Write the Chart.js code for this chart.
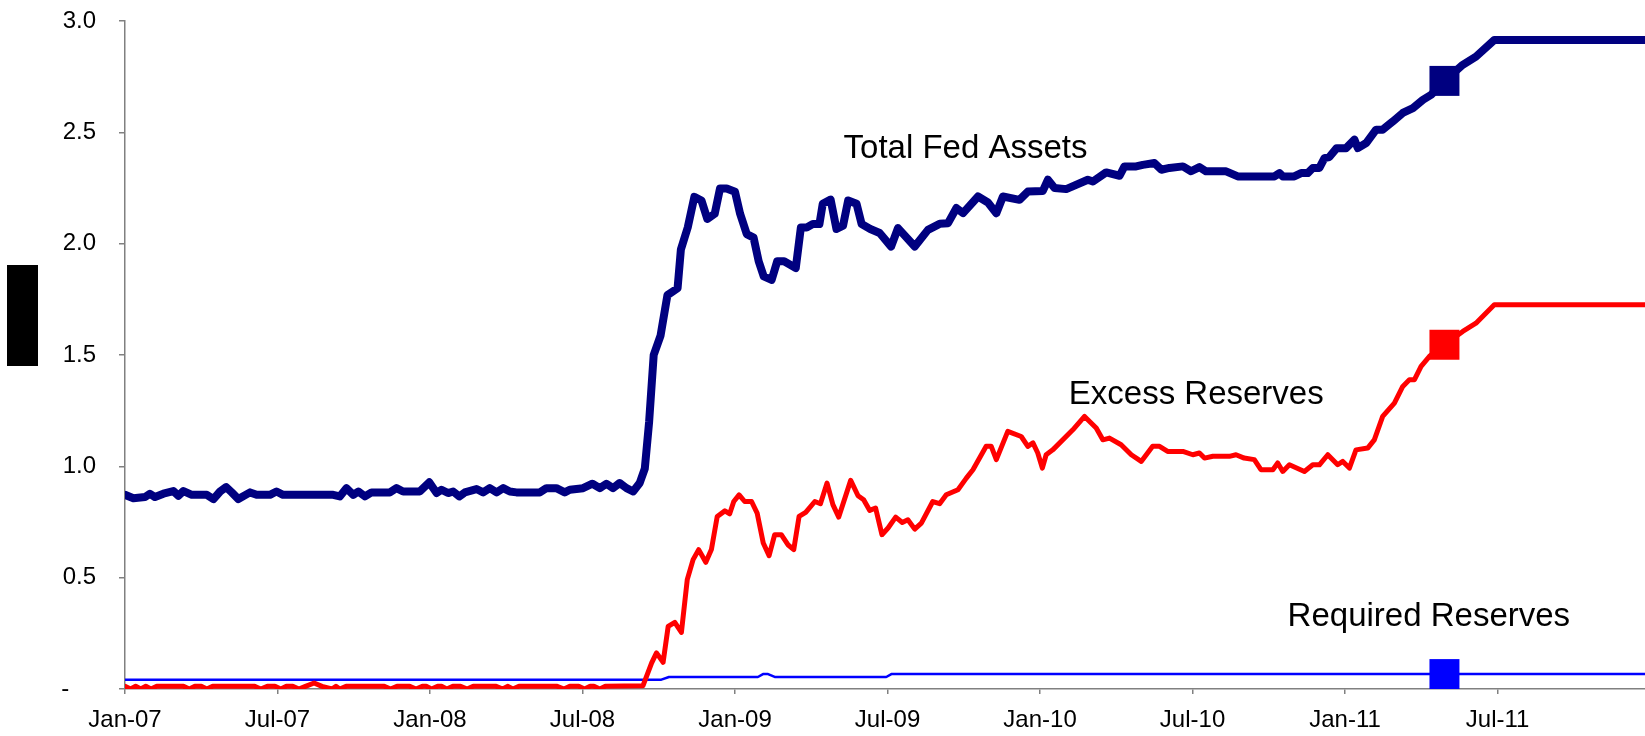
<!DOCTYPE html>
<html lang="en">

<head>
    <meta charset="UTF-8">
    <title>Fed Assets and Reserves</title>
    <style>
        html,
        body {
            margin: 0;
            padding: 0;
            overflow: hidden;
            background: #fff;
        }

        .wrap {
            position: relative;
            width: 1645px;
            height: 736px;
            overflow: hidden;
        }

        #fedChart {
            display: block;
        }

        /* covered axis title */
        .ybox {
            position: absolute;
            left: 7px;
            top: 265px;
            width: 31px;
            height: 101px;
            background: #000;
        }
    </style>
</head>

<body>
    <div class="wrap">
        <canvas id="fedChart"></canvas>
        <div class="ybox"></div>
    </div>

    <script src="https://cdn.jsdelivr.net/npm/chart.js"></script>
    <script>
        // x values are months counted from Jan-07
        const tickMonths = [0, 6, 12, 18, 24, 30, 36, 42, 48, 54];
        const tickLabels = ['Jan-07', 'Jul-07', 'Jan-08', 'Jul-08', 'Jan-09', 'Jul-09', 'Jan-10', 'Jul-10', 'Jan-11', 'Jul-11'];

        // Total Fed Assets
        const totalMonths = [0, 0.33, 0.79, 0.98, 1.18, 1.51, 1.9, 2.1, 2.3, 2.63, 3.22, 3.48, 3.74, 3.98, 4.2, 4.46, 4.92, 5.18, 5.7, 5.96,
            6.22, 8.19, 8.45, 8.71, 8.98, 9.18, 9.44, 9.7, 10.42, 10.68, 10.94, 11.6, 11.97, 12.26, 12.45, 12.71, 12.91, 13.15, 13.37, 13.83,
            14.09, 14.35, 14.62, 14.88, 15.14, 15.4, 16.32, 16.58, 16.97, 17.3, 17.5, 18.02, 18.39, 18.68, 18.94, 19.2, 19.46, 19.73, 19.99, 20.25,
            20.45, 20.62, 20.8, 21.07, 21.34, 21.74, 21.87, 22.14, 22.4, 22.68, 22.91, 23.2, 23.41, 23.67, 24.0, 24.2, 24.46, 24.73, 24.93, 25.13,
            25.44, 25.66, 25.93, 26.39, 26.59, 26.82, 27.06, 27.32, 27.45, 27.76, 27.99, 28.25, 28.45, 28.78, 28.98, 29.32, 29.69, 30.14, 30.41, 31.07,
            31.59, 32.05, 32.38, 32.71, 32.97, 33.56, 33.95, 34.28, 34.54, 35.19, 35.52, 36.11, 36.31, 36.57, 37.03, 37.88, 38.08, 38.6, 39.13, 39.32,
            39.78, 40.04, 40.5, 40.77, 41.09, 41.62, 41.94, 42.27, 42.53, 43.32, 43.78, 45.22, 45.42, 45.55, 46.0, 46.27, 46.53, 46.73, 46.99, 47.19,
            47.38, 47.67, 48.04, 48.37, 48.5, 48.83, 49.22, 49.48, 49.88, 50.27, 50.67, 51.06, 51.38, 51.91, 52.63, 53.15, 53.87, 59.8];
        const totalAssets = [0.872, 0.857, 0.862, 0.877, 0.862, 0.877, 0.889, 0.868, 0.889, 0.872, 0.872, 0.853, 0.887, 0.907, 0.883, 0.853, 0.883, 0.872, 0.872, 0.887,
            0.872, 0.872, 0.865, 0.902, 0.872, 0.887, 0.865, 0.883, 0.883, 0.902, 0.887, 0.887, 0.928, 0.88, 0.895, 0.88, 0.887, 0.865, 0.883, 0.898,
            0.883, 0.902, 0.883, 0.902, 0.887, 0.883, 0.883, 0.902, 0.902, 0.883, 0.895, 0.902, 0.922, 0.902, 0.922, 0.902, 0.925, 0.902, 0.887, 0.925,
            0.99, 1.2, 1.5, 1.587, 1.769, 1.80, 1.974, 2.073, 2.21, 2.194, 2.111, 2.134, 2.248, 2.248, 2.233, 2.134, 2.043, 2.027, 1.921, 1.853,
            1.837, 1.921, 1.921, 1.891, 2.073, 2.073, 2.088, 2.088, 2.179, 2.198, 2.066, 2.081, 2.194, 2.179, 2.088, 2.066, 2.048, 1.987, 2.07, 1.987,
            2.062, 2.089, 2.092, 2.16, 2.137, 2.212, 2.185, 2.137, 2.212, 2.197, 2.234, 2.237, 2.287, 2.25, 2.245, 2.287, 2.279, 2.32, 2.305, 2.347,
            2.347, 2.354, 2.362, 2.332, 2.34, 2.347, 2.325, 2.344, 2.325, 2.325, 2.302, 2.302, 2.317, 2.302, 2.302, 2.317, 2.317, 2.34, 2.34, 2.384,
            2.389, 2.429, 2.429, 2.467, 2.429, 2.452, 2.512, 2.512, 2.549, 2.587, 2.609, 2.646, 2.668, 2.731, 2.803, 2.84, 2.915, 2.915];

        // Excess Reserves
        const excessMonths = [0, 0.22, 0.42, 0.62, 0.82, 1.02, 1.25, 2.3, 2.53, 2.75, 3.0, 3.22, 3.45, 5.1, 5.34, 5.6, 5.9, 6.13, 6.35, 6.6,
            6.84, 7.1, 7.44, 7.75, 8.14, 8.3, 8.45, 8.7, 10.2, 10.45, 10.7, 11.2, 11.45, 11.7, 11.85, 12.06, 12.3, 12.45, 12.66, 12.9,
            13.2, 13.46, 13.7, 14.6, 14.86, 15.05, 15.26, 15.5, 17.0, 17.27, 17.5, 17.85, 18.08, 18.3, 18.45, 18.68, 18.9, 20.38, 20.72, 20.91,
            21.17, 21.37, 21.63, 21.89, 22.12, 22.35, 22.57, 22.85, 23.07, 23.3, 23.6, 23.79, 23.95, 24.16, 24.38, 24.65, 24.87, 25.11, 25.34, 25.56,
            25.82, 26.08, 26.31, 26.52, 26.78, 27.14, 27.36, 27.62, 27.85, 28.08, 28.55, 28.84, 29.06, 29.3, 29.53, 29.78, 30.02, 30.32, 30.58, 30.8,
            31.07, 31.33, 31.78, 32.05, 32.31, 32.77, 33.1, 33.36, 33.88, 34.08, 34.28, 34.73, 35.26, 35.52, 35.72, 35.91, 36.09, 36.24, 36.5, 37.29,
            37.75, 38.21, 38.47, 38.73, 39.19, 39.59, 39.98, 40.43, 40.7, 41.02, 41.62, 42.01, 42.27, 42.47, 42.8, 43.45, 43.71, 44.03, 44.43, 44.69,
            45.16, 45.35, 45.55, 45.81, 46.4, 46.73, 46.99, 47.32, 47.71, 47.91, 48.17, 48.43, 48.89, 49.15, 49.48, 49.94, 50.27, 50.53, 50.73, 50.99,
            51.32, 51.91, 52.63, 53.15, 53.87, 59.8];
        const excessReserves = [0.012, 0.0, 0.012, 0.0, 0.012, 0.0, 0.012, 0.012, 0.0, 0.012, 0.012, 0.0, 0.012, 0.012, 0.0, 0.012, 0.012, 0.0, 0.012, 0.012,
            0.0, 0.012, 0.027, 0.012, 0.0, 0.012, 0.0, 0.012, 0.012, 0.0, 0.012, 0.012, 0.0, 0.012, 0.012, 0.0, 0.012, 0.012, 0.0, 0.012,
            0.012, 0.0, 0.012, 0.012, 0.0, 0.012, 0.0, 0.012, 0.012, 0.0, 0.012, 0.012, 0.0, 0.012, 0.012, 0.0, 0.012, 0.015, 0.117, 0.162,
            0.12, 0.281, 0.299, 0.254, 0.491, 0.581, 0.626, 0.569, 0.626, 0.775, 0.8, 0.787, 0.842, 0.872, 0.842, 0.842, 0.79, 0.656, 0.599, 0.693,
            0.693, 0.648, 0.626, 0.775, 0.793, 0.842, 0.832, 0.925, 0.828, 0.772, 0.937, 0.868, 0.85, 0.802, 0.813, 0.693, 0.723, 0.772, 0.748, 0.76,
            0.718, 0.745, 0.842, 0.832, 0.872, 0.895, 0.947, 0.985, 1.09, 1.09, 1.03, 1.157, 1.134, 1.09, 1.105, 1.06, 0.992, 1.052, 1.074, 1.164,
            1.224, 1.172, 1.119, 1.127, 1.097, 1.052, 1.022, 1.09, 1.09, 1.067, 1.067, 1.052, 1.06, 1.037, 1.045, 1.045, 1.052, 1.037, 1.03, 0.985,
            0.985, 1.015, 0.977, 1.007, 0.977, 1.007, 1.007, 1.052, 1.007, 1.022, 0.992, 1.074, 1.082, 1.119, 1.224, 1.284, 1.359, 1.389, 1.389, 1.449,
            1.494, 1.546, 1.606, 1.643, 1.726, 1.726];

        // Required Reserves
        const requiredMonths = [0, 21.1, 21.4, 24.9, 25.1, 25.3, 25.56, 29.95, 30.15, 59.8];
        const requiredReserves = [0.042, 0.042, 0.054, 0.054, 0.067, 0.067, 0.054, 0.054, 0.067, 0.067];

        // square markers
        const markerMonth = 51.91;
        const markerValues = [2.731, 1.546, 0.067];
        const seriesColors = ['#000080', '#FF0000', '#0000FF'];

        // text labels placed in data units
        const seriesNames = ['Total Fed Assets', 'Excess Reserves', 'Required Reserves'];
        const nameMonths = [28.27, 37.13, 45.74];
        const nameValues = [2.384, 1.281, 0.281];

        const FONT = '"Liberation Sans", Arial, sans-serif';

        function toPoints(xs, ys) {
            return xs.map(function (x, i) { return { x: x, y: ys[i] }; });
        }

        // draw the series names next to the lines
        const seriesText = {
            id: 'seriesText',
            afterDatasetsDraw: function (chart) {
                const c = chart.ctx;
                const xs = chart.scales.x;
                const ys = chart.scales.y;
                c.save();
                c.font = '33px ' + FONT;
                c.fillStyle = '#000';
                c.textAlign = 'left';
                c.textBaseline = 'alphabetic';
                for (let i = 0; i < seriesNames.length; i++) {
                    c.fillText(seriesNames[i], xs.getPixelForValue(nameMonths[i]), ys.getPixelForValue(nameValues[i]));
                }
                c.restore();
            }
        };

        const ctx = document.getElementById('fedChart');
        const fedChart = new Chart(ctx, {
            type: 'line',
            data: {
                datasets: [{
                    label: 'Markers',
                    data: markerValues.map(function (v) { return { x: markerMonth, y: v }; }),
                    showLine: false,
                    pointStyle: 'rect',
                    pointRadius: 21.2,
                    pointBorderWidth: 0,
                    pointBackgroundColor: seriesColors,
                    pointBorderColor: seriesColors,
                    order: 0
                }, {
                    label: seriesNames[0],
                    data: toPoints(totalMonths, totalAssets),
                    borderColor: seriesColors[0],
                    borderWidth: 8,
                    pointRadius: 0,
                    order: 1
                }, {
                    label: seriesNames[1],
                    data: toPoints(excessMonths, excessReserves),
                    borderColor: seriesColors[1],
                    borderWidth: 5,
                    pointRadius: 0,
                    order: 2
                }, {
                    label: seriesNames[2],
                    data: toPoints(requiredMonths, requiredReserves),
                    borderColor: seriesColors[2],
                    borderWidth: 2.5,
                    pointRadius: 0,
                    order: 3
                }]
            },
            options: {
                responsive: true,
                maintainAspectRatio: false,
                animation: false,
                events: [],
                datasets: {
                    line: {
                        tension: 0,
                        borderJoinStyle: 'round',
                        borderCapStyle: 'round'
                    }
                },
                layout: {
                    autoPadding: false,
                    padding: { top: 21, right: 0, bottom: 0, left: 0 }
                },
                plugins: {
                    legend: { display: false },
                    tooltip: { enabled: false }
                },
                scales: {
                    x: {
                        type: 'linear',
                        min: 0,
                        max: 59.8,
                        afterBuildTicks: function (scale) {
                            scale.ticks = tickMonths.map(function (v) { return { value: v }; });
                        },
                        afterFit: function (scale) {
                            scale.height = 47;
                            scale.paddingLeft = 0;
                            scale.paddingRight = 0;
                        },
                        grid: {
                            drawOnChartArea: false,
                            drawTicks: true,
                            tickLength: 5,
                            color: '#808080',
                            lineWidth: 1.5
                        },
                        border: { display: true, color: '#808080', width: 1.5 },
                        ticks: {
                            autoSkip: false,
                            maxRotation: 0,
                            padding: 12,
                            color: '#000',
                            font: { family: FONT, size: 24 },
                            callback: function (value) {
                                const i = tickMonths.indexOf(value);
                                return i >= 0 ? tickLabels[i] : '';
                            }
                        }
                    },
                    y: {
                        min: 0,
                        max: 3,
                        afterFit: function (scale) {
                            scale.width = 125;
                            scale.paddingTop = 0;
                            scale.paddingBottom = 0;
                        },
                        grid: {
                            drawOnChartArea: false,
                            drawTicks: true,
                            tickLength: 6,
                            color: '#808080',
                            lineWidth: 1.5
                        },
                        border: { display: true, color: '#808080', width: 1.5 },
                        ticks: {
                            stepSize: 0.5,
                            padding: 23,
                            color: '#000',
                            font: { family: FONT, size: 24 },
                            callback: function (value) {
                                // zero shows as a dash, like accounting format
                                return value === 0 ? '-\u00a0\u00a0\u00a0\u00a0' : value.toFixed(1);
                            }
                        }
                    }
                }
            },
            plugins: [seriesText]
        });
    </script>
</body>

</html>
